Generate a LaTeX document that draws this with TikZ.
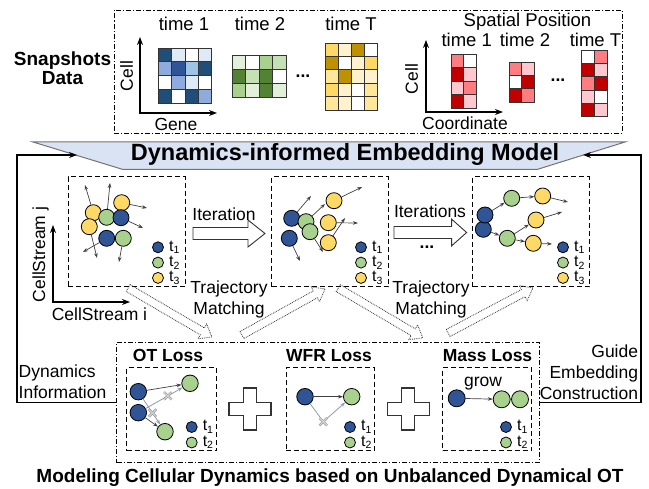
\documentclass[tikz,border=0pt]{standalone}
\usepackage{fontspec}
\setmainfont{Liberation Sans}
\usetikzlibrary{arrows.meta,shapes.misc}

\definecolor{cblue}{HTML}{2F5597}
\definecolor{cgreen}{HTML}{A9D18E}
\definecolor{cyellow}{HTML}{FFD966}
\definecolor{banfill}{HTML}{DAE3F3}
\definecolor{lgray}{HTML}{8C9BB5}
\definecolor{hbA}{HTML}{1F4E79}
\definecolor{hbB}{HTML}{2F5597}
\definecolor{hbC}{HTML}{8FAADC}
\definecolor{hbD}{HTML}{9DC3E6}
\definecolor{hbE}{HTML}{DEEBF7}
\definecolor{hgA}{HTML}{548235}
\definecolor{hgB}{HTML}{A9D18E}
\definecolor{hgC}{HTML}{C5E0B4}
\definecolor{hgD}{HTML}{E2F0D9}
\definecolor{hyA}{HTML}{BF9000}
\definecolor{hyB}{HTML}{FFD966}
\definecolor{hyC}{HTML}{FFE699}
\definecolor{hyD}{HTML}{FFF2CC}
\definecolor{hrA}{HTML}{C00000}
\definecolor{hrB}{HTML}{FF7C80}
\definecolor{hrC}{HTML}{FFC7CE}

\newcommand{\heatmap}[5]{%
  \foreach \row [count=\r] in {#5} {
    \foreach \cc [count=\k] in \row
      \filldraw[fill=\cc, draw=black!80, line width=0.6]
        ({#1+(\k-1)*#3},{#2+(\r-1)*#4}) rectangle ++(#3,#4);
  }}
\newcommand{\hollowarrow}[8]{%
  \begin{scope}[shift={(#2,#3)}, rotate=#4]
    \draw[#1] ({-#5/2},-#6) -- ({#5/2-#8},-#6) -- ({#5/2-#8},-#7) -- ({#5/2},0)
      -- ({#5/2-#8},#7) -- ({#5/2-#8},#6) -- ({-#5/2},#6) -- cycle;
  \end{scope}}
\newcommand{\tsub}[1]{t\raisebox{-0.3ex}{\fontsize{10.5}{10.5}\selectfont#1}}

\begin{document}
\begin{tikzpicture}[x=1pt, y=-1pt, >={Stealth[length=5pt,width=3.6pt]},
  txt/.style={font=\fontsize{17.5}{21}\selectfont, inner sep=0},
  big/.style={font=\fontsize{18.5}{21}\selectfont, inner sep=0},
  ttl/.style={font=\bfseries\fontsize{17.5}{21}\selectfont, inner sep=0},
  leg/.style={font=\fontsize{16}{17}\selectfont, inner sep=0},
  cell/.style={circle, draw, line width=0.8, inner sep=0, minimum size=16},
  dot/.style={cell, minimum size=11},
  mv/.style={->, draw=black!75, line width=0.7},
  gmv/.style={draw=lgray, line width=0.8},
  xm/.style={cross out, draw=gray!90, double=gray!35, double distance=1.3pt, line width=0.5, minimum size=7, inner sep=0},
  dbox/.style={draw, dash pattern=on 5pt off 3pt, line width=1, inner sep=0},
  ddbox/.style={draw, dash pattern=on 5pt off 2pt on 1.2pt off 2pt, line width=0.8, inner sep=0},
  axis/.style={{Stealth[length=8pt,width=6pt]}-{Stealth[length=8pt,width=6pt]}, line width=1.4},
  fb/.style={-{Stealth[length=8pt,width=6pt]}, line width=1.1},
  blk/.style={draw=black!80, fill=white, line width=0.9},
  dblk/.style={draw=black!80, densely dotted, line width=0.8},
  plus/.style={draw=black!80, fill=white, line width=1.1}]
\useasboundingbox (0,0) rectangle (649,489);

\node[ddbox, minimum width=508, minimum height=123] (snapbox) at (368,71.5) {};
\node[font=\bfseries\fontsize{19}{19}\selectfont, inner sep=0, align=center] (snap) at (62.5,68) {Snapshots\\Data};

\coordinate (o1) at (140,113);
\coordinate (o1y) at (140,37);
\coordinate (o1x) at (217,113);
\draw[axis] (o1y) -- (o1) -- (o1x);
\node[txt, rotate=90] (cell1) at (126.7,76) {Cell};
\node[txt, anchor=base] (gene) at (176,130.7) {Gene};

\heatmap{158}{48}{13.4}{13.8}{{hbA,hbE,white,hbE},{hbC,hbB,hbD,hbA},{white,hbC,hbE,white},{hbA,white,hbA,hbC}}
\heatmap{232}{55}{13.5}{14}{{hgD,white,hgB,hgC},{hgA,hgC,hgA,white},{hgB,hgD,hgA,hgD}}
\heatmap{325}{43}{13}{13.4}{{hyB,hyD,hyA,white},{hyA,white,hyD,hyB},{hyC,hyA,hyD,hyD},{hyB,hyD,white,hyC},{hyC,hyD,white,hyC}}
\node[big, anchor=base] (g1) at (184,31) {time 1};
\node[big, anchor=base] (g2) at (260,31) {time 2};
\node[big, anchor=base] (gT) at (351,31) {time T};
\node[ttl] (gdots) at (303,76) {...};

\coordinate (o2) at (426,112);
\coordinate (o2y) at (426,40);
\coordinate (o2x) at (503,112);
\draw[axis] (o2y) -- (o2) -- (o2x);
\node[txt, rotate=90] (cell2) at (411.7,79) {Cell};
\node[txt, anchor=base] (coord) at (465,129.3) {Coordinate};
\node[big, anchor=base] (spat) at (527.5,26.5) {Spatial Position};

\heatmap{451}{54}{12.6}{13.5}{{hrB,white},{hrA,hrC},{hrC,hrB},{hrA,hrC}}
\heatmap{509}{62}{12.6}{13.3}{{hrB,hrC},{white,hrA},{hrA,hrB}}
\heatmap{581}{50}{13}{13.3}{{white,hrB},{hrA,hrC},{hrB,hrA},{hrC,white},{hrA,hrC}}
\node[big, anchor=base] (s1) at (466.7,46.7) {time 1};
\node[big, anchor=base] (s2) at (525,46.7) {time 2};
\node[big, anchor=base] (sT) at (595.5,46.7) {time T};
\node[ttl] (sdots) at (558,80) {...};

\draw[draw=gray!90!black, fill=banfill, line width=1] (33,142) -- (625,142) -- (537,169.5) -- (123,169.5) -- cycle;
\node[font=\bfseries\fontsize{23.5}{24}\selectfont, inner sep=0, anchor=base] (model) at (345,161) {Dynamics-informed Embedding Model};
\coordinate (bl) at (77,155);
\coordinate (br) at (583,155);

\node[dbox, minimum width=117, minimum height=110] (boxA) at (126.5,232) {};
\node[dbox, minimum width=116.6, minimum height=110] (boxB) at (330,232) {};
\node[dbox, minimum width=116.6, minimum height=110] (boxC) at (531,232) {};

\coordinate (o3) at (53,302);
\coordinate (o3y) at (53,225);
\coordinate (o3x) at (130,302);
\draw[axis] (o3y) -- (o3) -- (o3x);
\node[txt, rotate=90] (csj) at (40.5,254.5) {CellStream j};
\node[txt] (csi) at (99.5,314) {CellStream i};

\node[cell, fill=cyellow] (a1) at (93.3,212.7) {};
\node[cell, fill=cyellow] (a2) at (89.3,226.7) {};
\node[cell, fill=cyellow] (a4) at (121.7,202.7) {};
\node[cell, fill=cgreen] (a3) at (106.7,217.3) {};
\node[cell, fill=cblue] (a5) at (121,217.7) {};
\node[cell, fill=cblue] (a6) at (106.7,238.3) {};
\node[cell, fill=cgreen] (a7) at (123.3,238.3) {};
\coordinate (ea1) at (85,185);
\coordinate (ea3) at (110,183);
\coordinate (ea4) at (147,208);
\coordinate (ea5) at (143,228);
\coordinate (ea2) at (97,258);
\coordinate (ea6) at (83,252);
\coordinate (ea7) at (119,262);
\foreach \n in {1,...,7} \draw[mv] (a\n) -- (ea\n);

\node[cell, fill=cblue] (b1) at (291.7,218.3) {};
\node[cell, fill=cblue] (b4) at (289.3,238.3) {};
\node[cell, fill=cgreen] (b2) at (306,221.7) {};
\node[cell, fill=cgreen] (b3) at (310,231.7) {};
\node[cell, fill=cyellow] (b5) at (334,200.7) {};
\node[cell, fill=cyellow] (b6) at (328.3,222.7) {};
\node[cell, fill=cyellow] (b7) at (328.3,242.7) {};
\coordinate (eb1) at (311,196);
\coordinate (eb2) at (325,204);
\coordinate (eb3) at (323,252);
\coordinate (eb4) at (300,261);
\coordinate (eb5) at (362,187);
\coordinate (eb6) at (358,223);
\coordinate (eb7) at (345,218);
\foreach \n in {1,...,7} \draw[mv] (b\n) -- (eb\n);

\node[cell, fill=cblue] (c2) at (483.3,229.3) {};
\node[cell, fill=cblue] (c1) at (485,215) {};
\node[cell, fill=cgreen] (c3) at (511.7,198.3) {};
\node[cell, fill=cgreen] (c4) at (507.3,238.3) {};
\node[cell, fill=cyellow] (c5) at (542.7,196) {};
\node[cell, fill=cyellow] (c6) at (536,220) {};
\node[cell, fill=cyellow] (c7) at (533.3,243.3) {};
\coordinate (ec5) at (568,202);
\coordinate (ec6) at (562,212);
\coordinate (ec7) at (552,244);
\draw[mv] (c1) -- (c3);
\draw[mv] (c2) -- (c4);
\draw[mv] (c3) -- (c5);
\draw[mv] (c4) -- (c6);
\draw[mv] (c4) -- (c7);
\foreach \n in {5,6,7} \draw[mv] (c\n) -- (ec\n);

\foreach \bx/\x in {A/158,B/361,C/563}
  \foreach \cc [count=\i] in {cblue,cgreen,cyellow} {
    \node[dot, fill=\cc] (l\bx\i) at (\x,{232+15.3*\i}) {};
    \node[leg, anchor=west] (t\bx\i) at ([xshift=5]l\bx\i.east) {\tsub{\i}};
  }

\hollowarrow{blk}{229}{233.5}{0}{72}{6}{13.5}{17}
\node[txt] (itl1) at (224,214) {Iteration};
\hollowarrow{blk}{430.3}{232.5}{0}{72.7}{6}{13.3}{15}
\node[txt] (itl2) at (430,211) {Iterations};
\node[ttl] (idots) at (427,247) {...};

\node[txt, align=center, anchor=north] (tm1) at (229,280.5) {Trajectory\\Matching};
\node[txt, align=center, anchor=north] (tm2) at (431,280.5) {Trajectory\\Matching};

\hollowarrow{dblk}{170}{312.5}{-30.3}{97}{4}{8.5}{11}
\hollowarrow{dblk}{283.5}{312}{29}{95}{4}{8.5}{11}
\hollowarrow{dblk}{380.5}{313}{-30.5}{98}{4}{8.5}{11}
\hollowarrow{dblk}{490.5}{310.5}{28}{96}{4}{8.5}{11}

\node[ddbox, minimum width=422.3, minimum height=120] (bot) at (327.8,402.7) {};
\node[dbox, minimum width=90, minimum height=83] (otb) at (171.7,409.2) {};
\node[dbox, minimum width=88.3, minimum height=83] (wfrb) at (330.2,409.2) {};
\node[dbox, minimum width=89, minimum height=83] (massb) at (487.2,409.2) {};
\node[ttl, anchor=base] (otl) at (168,361.7) {OT Loss};
\node[ttl, anchor=base] (wfrl) at (329,361.7) {WFR Loss};
\node[ttl, anchor=base] (massl) at (487.5,361.7) {Mass Loss};

\draw[plus] (229,402.5) -- ++(14.5,0) -- ++(0,-14.5) -- ++(13,0) -- ++(0,14.5) -- ++(14.5,0) -- ++(0,13)
  -- ++(-14.5,0) -- ++(0,14.5) -- ++(-13,0) -- ++(0,-14.5) -- ++(-14.5,0) -- cycle;
\draw[plus] (387.3,402.5) -- ++(14.5,0) -- ++(0,-14.5) -- ++(13,0) -- ++(0,14.5) -- ++(14.5,0) -- ++(0,13)
  -- ++(-14.5,0) -- ++(0,14.5) -- ++(-13,0) -- ++(0,-14.5) -- ++(-14.5,0) -- cycle;

\node[cell, fill=cblue, minimum size=16.5] (p1) at (138.3,391.7) {};
\node[cell, fill=cblue, minimum size=16.5] (p2) at (138.3,412.7) {};
\node[cell, fill=cgreen, minimum size=16.5] (p3) at (190,383.3) {};
\node[cell, fill=cgreen, minimum size=16.5] (p4) at (165,431.7) {};
\draw[gmv, ->] (p1) -- node[xm, pos=0.55] (px1) {} (p4);
\draw[gmv, ->] (p2) -- node[xm, pos=0.6] (px2) {} (p3);
\draw[mv] (p1) -- (p3);
\draw[mv] (p2) -- (p4);

\node[cell, fill=cblue, minimum size=16.5] (w1) at (305,396.7) {};
\node[cell, fill=cgreen, minimum size=16.5] (w2) at (351.7,396.7) {};
\coordinate (wv) at (323.3,421.7);
\draw[gmv] (w1) -- (wv);
\draw[gmv, ->] (wv) -- (w2);
\node[xm] (wx) at (wv) {};
\draw[mv] (w1) -- (w2);

\node[cell, fill=cblue, minimum size=17] (m1) at (456.7,398.3) {};
\node[cell, fill=cgreen, minimum size=17] (m2) at (501.7,399.3) {};
\node[cell, fill=cgreen, minimum size=17] (m3) at (520,399.3) {};
\draw[mv] (m1) -- (m2);
\node[txt, anchor=base] (grow) at (483,386.7) {grow};

\foreach \bx/\x in {O/191.7,W/350,M/506}
  \foreach \cc [count=\i] in {cblue,cgreen} {
    \node[dot, fill=\cc] (l\bx\i) at (\x,{411.5+15.5*\i}) {};
    \node[leg, anchor=west] (t\bx\i) at ([xshift=5]l\bx\i.east) {\tsub{\i}};
  }

\coordinate (lc) at (17,155);
\coordinate (rc) at (641,155);
\draw[fb] (bot.west) -| (lc) -- (bl);
\draw[fb] (bot.east) -| (rc) -- (br);
\node[txt, align=left, anchor=north west] (dyn) at (18.5,365) {Dynamics\\Information};
\node[txt, align=right, anchor=north east] (guide) at (638.3,345) {Guide\\Embedding\\Construction};

\node[font=\bfseries\fontsize{19}{20}\selectfont, inner sep=0, anchor=base] (modeling) at (330,482.7) {Modeling Cellular Dynamics based on Unbalanced Dynamical OT};
\end{tikzpicture}
\end{document}
